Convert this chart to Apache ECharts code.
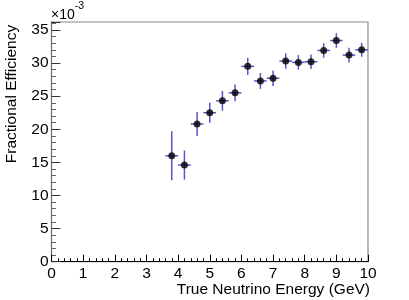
<!DOCTYPE html>
<html>
<head>
<meta charset="utf-8">
<script src="https://cdn.jsdelivr.net/npm/echarts@6/dist/echarts.min.js"></script>
<style>html,body{margin:0;padding:0;background:#fff;}#c{width:409px;height:300px;}</style>
</head>
<body>
<div id="c"></div>
<script>
// True neutrino energy bin centres (GeV)
var energy = [3.8, 4.2, 4.6, 5.0, 5.4, 5.8, 6.2, 6.6, 7.0, 7.4, 7.8, 8.2, 8.6, 9.0, 9.4, 9.8];
// Half bin width (GeV)
var binHalfWidth = [0.2, 0.2, 0.2, 0.2, 0.2, 0.2, 0.2, 0.2, 0.2, 0.2, 0.2, 0.2, 0.2, 0.2, 0.2, 0.2];
// Fractional efficiency (x10^-3)
var efficiency = [16.0, 14.6, 20.8, 22.5, 24.3, 25.5, 29.5, 27.3, 27.7, 30.3, 30.1, 30.2, 31.9, 33.4, 31.2, 32.0];
// Efficiency error (x10^-3)
var effError = [3.7, 2.2, 1.8, 1.5, 1.5, 1.25, 1.3, 1.2, 1.15, 1.15, 1.1, 1.1, 1.1, 1.1, 1.1, 1.05];

var xTicks = [0,1,2,3,4,5,6,7,8,9,10];
var yTicks = [0,5,10,15,20,25,30,35];

var errData = energy.map(function(x, i){ return [x, efficiency[i], binHalfWidth[i], effError[i]]; });
var ptData = energy.map(function(x, i){ return [x, efficiency[i]]; });

var chart = echarts.init(document.getElementById('c'), null, {renderer:'canvas'});
var font = 'Liberation Sans, Arial, Helvetica, sans-serif';
var errColor = '#5555cc';

chart.setOption({
  animation: false,
  backgroundColor: '#fff',
  grid: { left: 51.5, right: 41, top: 22, bottom: 38.3, show: true, borderColor: '#8a8a8a', borderWidth: 1.2, backgroundColor: 'transparent' },
  xAxis: {
    type: 'value', min: 0, max: 10, interval: 1,
    axisLine: { show: true, onZero: false, lineStyle: { color: '#000', width: 1 } },
    axisTick: { show: true, inside: true, length: 7, lineStyle: { color: '#000' } },
    minorTick: { show: true, splitNumber: 5, length: 3.5, lineStyle: { color: '#000' } },
    splitLine: { show: false },
    axisLabel: { color: '#000', fontFamily: font, fontSize: 15.5, margin: 4,
      formatter: function(v){ return xTicks.indexOf(v) >= 0 ? String(v) : ''; } }
  },
  yAxis: {
    type: 'value', min: 0, max: 36.2, interval: 5,
    axisLine: { show: true, onZero: false, lineStyle: { color: '#666', width: 1 } },
    axisTick: { show: true, inside: true, length: 9, lineStyle: { color: '#333' } },
    minorTick: { show: true, splitNumber: 5, length: 4.5, lineStyle: { color: '#666' } },
    splitLine: { show: false },
    axisLabel: { color: '#000', fontFamily: font, fontSize: 15.5, margin: 3, showMaxLabel: false,
      formatter: function(v){ return yTicks.indexOf(v) >= 0 ? String(v) : ''; } }
  },
  graphic: [
    { type: 'text', left: 51, top: 1, style: { text: '{a|×10}{b|-3}', rich: { a: { fontSize: 14, fontFamily: font, fill: '#000', padding: [7,0,0,0] }, b: { fontSize: 10.5, fontFamily: font, fill: '#000', verticalAlign: 'top' } } } },
    { type: 'text', x: 12, y: 94, rotation: Math.PI/2, style: { text: 'Fractional Efficiency', fontSize: 15.5, fontFamily: font, fill: '#000', textAlign: 'center', textVerticalAlign: 'middle' } },
    { type: 'text', x: 370, y: 290, style: { text: 'True Neutrino Energy (GeV)', fontSize: 15.5, fontFamily: font, fill: '#000', textAlign: 'right', textVerticalAlign: 'middle' } }
  ],
  series: [
    {
      type: 'custom',
      data: errData,
      renderItem: function(params, api){
        var x = api.value(0), y = api.value(1), dx = api.value(2), dy = api.value(3);
        var l = api.coord([x - dx, y]), r = api.coord([x + dx, y]);
        var t = api.coord([x, y + dy]), b = api.coord([x, y - dy]);
        return { type: 'group', children: [
          { type: 'line', shape: { x1: l[0], y1: l[1], x2: r[0], y2: r[1] }, style: { stroke: errColor, lineWidth: 1.5 } },
          { type: 'line', shape: { x1: t[0], y1: t[1], x2: b[0], y2: b[1] }, style: { stroke: errColor, lineWidth: 1.5 } }
        ]};
      },
      z: 2
    },
    {
      type: 'scatter', data: ptData, symbol: 'circle', symbolSize: 7,
      itemStyle: { color: '#000' }, z: 3
    }
  ]
});
</script>
</body>
</html>
